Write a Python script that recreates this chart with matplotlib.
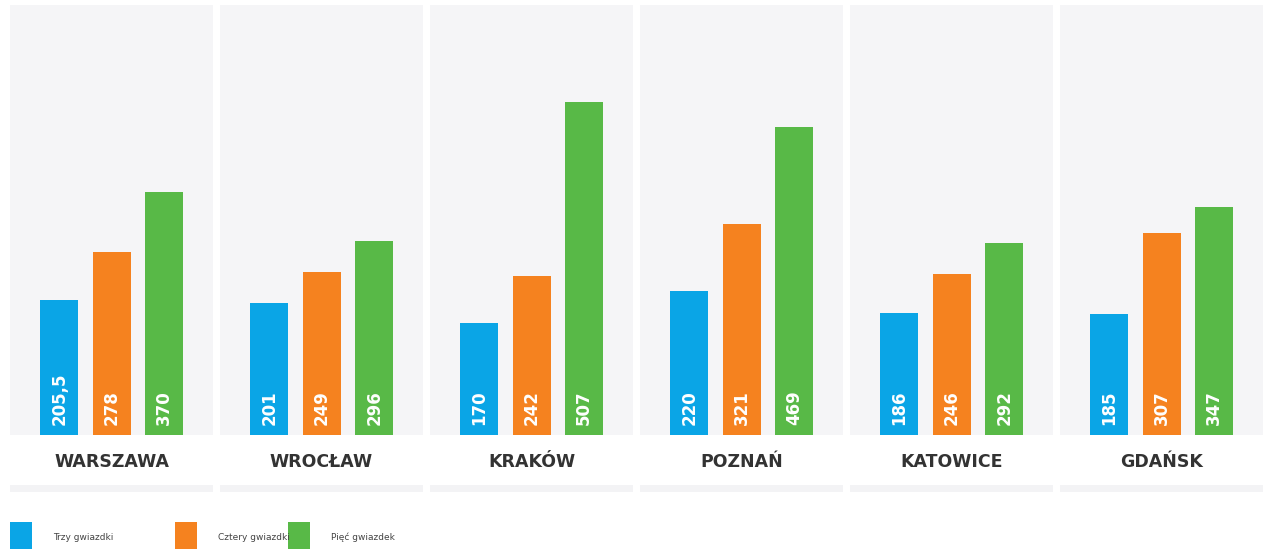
import matplotlib.pyplot as plt
from matplotlib.patches import Rectangle

cities = ['WARSZAWA', 'WROCŁAW', 'KRAKÓW', 'POZNAŃ', 'KATOWICE', 'GDAŃSK']
trzy = [205.5, 201, 170, 220, 186, 185]
cztery = [278, 249, 242, 321, 246, 307]
piec = [370, 296, 507, 469, 292, 347]
labels = ['Trzy gwiazdki', 'Cztery gwiazdki', 'Pięć gwiazdek']
colors = ['#0aa5e6', '#f5821f', '#58b947']

W, H = 1270, 549
fig = plt.figure(figsize=(W / 100, H / 100), dpi=100)
fig.patch.set_facecolor('white')

def fmt(v):
    s = ('%g' % v)
    return s.replace('.', ',')

panel_left = [10, 220, 430, 640, 850, 1060]
panel_w = 203
for i, city in enumerate(cities):
    x0 = panel_left[i]
    ax = fig.add_axes([x0 / W, 1 - 435 / H, panel_w / W, 430 / H])
    ax.set_facecolor('#f5f5f7')
    vals = [trzy[i], cztery[i], piec[i]]
    xs = [-1, 0, 1]
    ax.bar(xs, vals, width=0.725, color=colors, zorder=2)
    for x, v in zip(xs, vals):
        ax.annotate(fmt(v), xy=(x, 0), xytext=(0, 7), textcoords='offset points',
                    rotation=90, ha='center', va='bottom', color='white',
                    fontsize=12, fontweight='bold', zorder=3)
    ax.set_xlim(-1.94, 1.93)
    ax.set_ylim(0, 655)
    ax.set_xticks([])
    ax.set_yticks([])
    for s in ax.spines.values():
        s.set_visible(False)
    # city name
    fig.text((x0 + panel_w / 2) / W, 1 - 462 / H, city, ha='center', va='center',
             fontsize=12.5, fontweight='bold', color='#333333')
    # thin strip under label
    fig.add_artist(Rectangle((x0 / W, 1 - 492 / H), panel_w / W, 7 / H,
                             transform=fig.transFigure, color='#f3f3f5', lw=0))

# legend
leg_x = [10, 175, 288]
for lx, lab, c in zip(leg_x, labels, colors):
    fig.add_artist(Rectangle((lx / W, 0), 22 / W, 27 / H,
                             transform=fig.transFigure, color=c, lw=0))
    fig.text((lx + 43) / W, 1 - 537 / H, lab, ha='left', va='center',
             fontsize=6.5, color='#444444')

fig.savefig('out.png', dpi=100)
